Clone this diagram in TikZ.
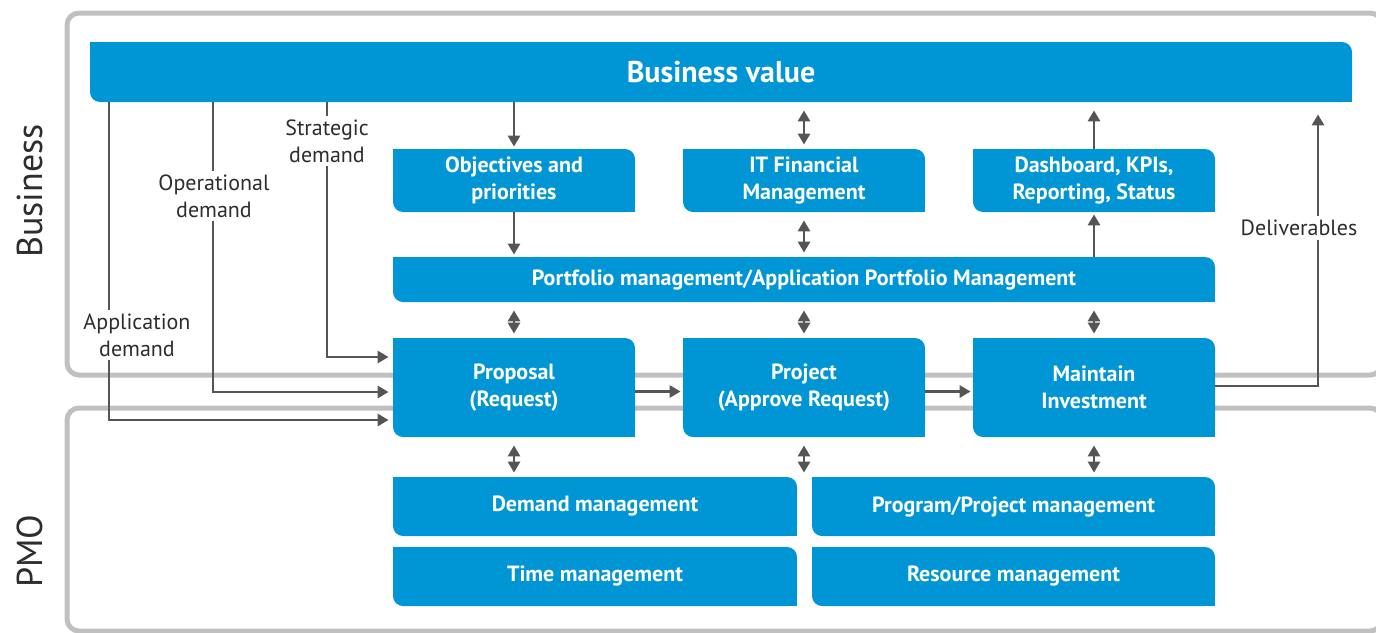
\documentclass[tikz,border=0pt]{standalone}
\usepackage{fontspec}
\setmainfont{PT Sans}
\usetikzlibrary{arrows.meta}
\definecolor{hpblue}{RGB}{0,150,214}
\definecolor{linegray}{RGB}{85,85,85}
\definecolor{framegray}{RGB}{192,192,192}
\definecolor{labelgray}{RGB}{45,45,45}
\begin{document}
\begin{tikzpicture}[x=0.5pt, y=-0.5pt,
        box/.style={fill=hpblue, rounded corners=5pt, text=white, align=center, inner sep=0pt,
            font=\bfseries\fontsize{11}{13.5}\selectfont},
        frame/.style={draw=framegray, line width=2.5pt, rounded corners=6pt},
        link/.style={draw=linegray, line width=1.4pt},
        arr/.style={link, -{Triangle[length=5.5pt,width=6pt]}},
        darr/.style={link, {Triangle[length=5.5pt,width=6pt]}-{Triangle[length=5.5pt,width=6pt]}, shorten <=4pt, shorten >=2pt},
        lbl/.style={fill=white, text=labelgray, align=center, inner sep=2pt,
            font=\fontsize{11}{13.5}\selectfont}]
        \useasboundingbox (0,0) rectangle (1376,632);
        \clip (0,0) rectangle (1376,632);
        \draw[frame] (67,13) rectangle (1382,375);
        \draw[frame] (67,408) rectangle (1382,631);
        \node[rotate=90, text=labelgray, font=\fontsize{18}{20}\selectfont] (bus) at (30,191) {Business};
        \node[rotate=90, text=labelgray, font=\fontsize{18}{20}\selectfont] (pmo) at (30,551) {PMO};
        \node[box, minimum width=631pt, minimum height=30pt, font=\bfseries\fontsize{15}{18}\selectfont] (bv) at (721,72) {Business value};
        \node[box, minimum width=121pt, minimum height=31.5pt] (obj) at (514,180.5) {Objectives and\\priorities};
        \node[box, minimum width=121pt, minimum height=31.5pt] (itf) at (804,180.5) {IT Financial\\Management};
        \node[box, minimum width=121pt, minimum height=31.5pt] (dash) at (1094,180.5) {Dashboard, KPIs,\\Reporting, Status};
        \node[box, minimum width=411pt, minimum height=22.5pt] (pfm) at (804,279.5) {Portfolio management/Application Portfolio Management};
        \node[box, minimum width=121pt, minimum height=49.5pt] (prop) at (514,387.5) {Proposal\\(Request)};
        \node[box, minimum width=121pt, minimum height=49.5pt] (proj) at (804,387.5) {Project\\(Approve Request)};
        \node[box, minimum width=121pt, minimum height=49.5pt] (mnt) at (1094,387.5) {Maintain\\Investment};
        \node[box, minimum width=202pt, minimum height=29.5pt] (dem) at (595,506.5) {Demand management};
        \node[box, minimum width=201.5pt, minimum height=29.5pt] (ppm) at (1013.5,506.5) {Program/Project management};
        \node[box, minimum width=202pt, minimum height=29.5pt] (tim) at (595,576.5) {Time management};
        \node[box, minimum width=201.5pt, minimum height=29.5pt] (res) at (1013.5,576.5) {Resource management};
        \foreach \n in {bv,obj,itf,dash,pfm,prop,proj,mnt,dem,ppm,tim,res} {
            \fill[hpblue] (\n.north west) rectangle ++(10,10);
            \fill[hpblue] (\n.south east) rectangle ++(-10,-10);
        }
        \draw[arr, shorten >=1pt] (bv.south -| obj.north) -- (obj.north);
        \draw[arr, shorten >=1pt] (obj.south) -- (obj.south |- pfm.north);
        \draw[darr] (bv.south -| itf.north) -- (itf.north);
        \draw[darr] (itf.south) -- (itf.south |- pfm.north);
        \draw[arr, shorten >=1pt] (dash.south |- pfm.north) -- (dash.south);
        \draw[arr, shorten >=4pt] (dash.north) -- (dash.north |- bv.south);
        \foreach \n in {prop,proj,mnt} {
            \draw[darr] (\n.north |- pfm.south) -- (\n.north);
            \draw[darr] (\n.south) -- (\n.south |- dem.north);
        }
        \draw[arr, shorten >=1pt] ([yshift=-2pt]prop.east) -- ([yshift=-2pt]proj.west);
        \draw[arr, shorten >=1pt] ([yshift=-2pt]proj.east) -- ([yshift=-2pt]mnt.west);
        \coordinate (sd) at (327,357);
        \coordinate (od) at (213,392);
        \coordinate (ad) at (109,420);
        \coordinate (dl) at (1318,386);
        \draw[arr, shorten >=2pt] (bv.south -| sd) -- (sd) -- (sd -| prop.west);
        \draw[arr, shorten >=2pt] (bv.south -| od) -- (od) -- (od -| prop.west);
        \draw[arr, shorten >=2pt] (bv.south -| ad) -- (ad) -- (ad -| prop.west);
        \draw[arr, shorten >=6pt] (mnt.east |- dl) -- (dl) -- (dl |- bv.south);
        \node[lbl] (sdl) at (327,141) {Strategic\\demand};
        \node[lbl] (odl) at (214,196) {Operational\\demand};
        \node[lbl] (adl) at (137,335) {Application\\demand};
        \node[lbl] (dlv) at (1299,228) {Deliverables};
    \end{tikzpicture}
\end{document}
